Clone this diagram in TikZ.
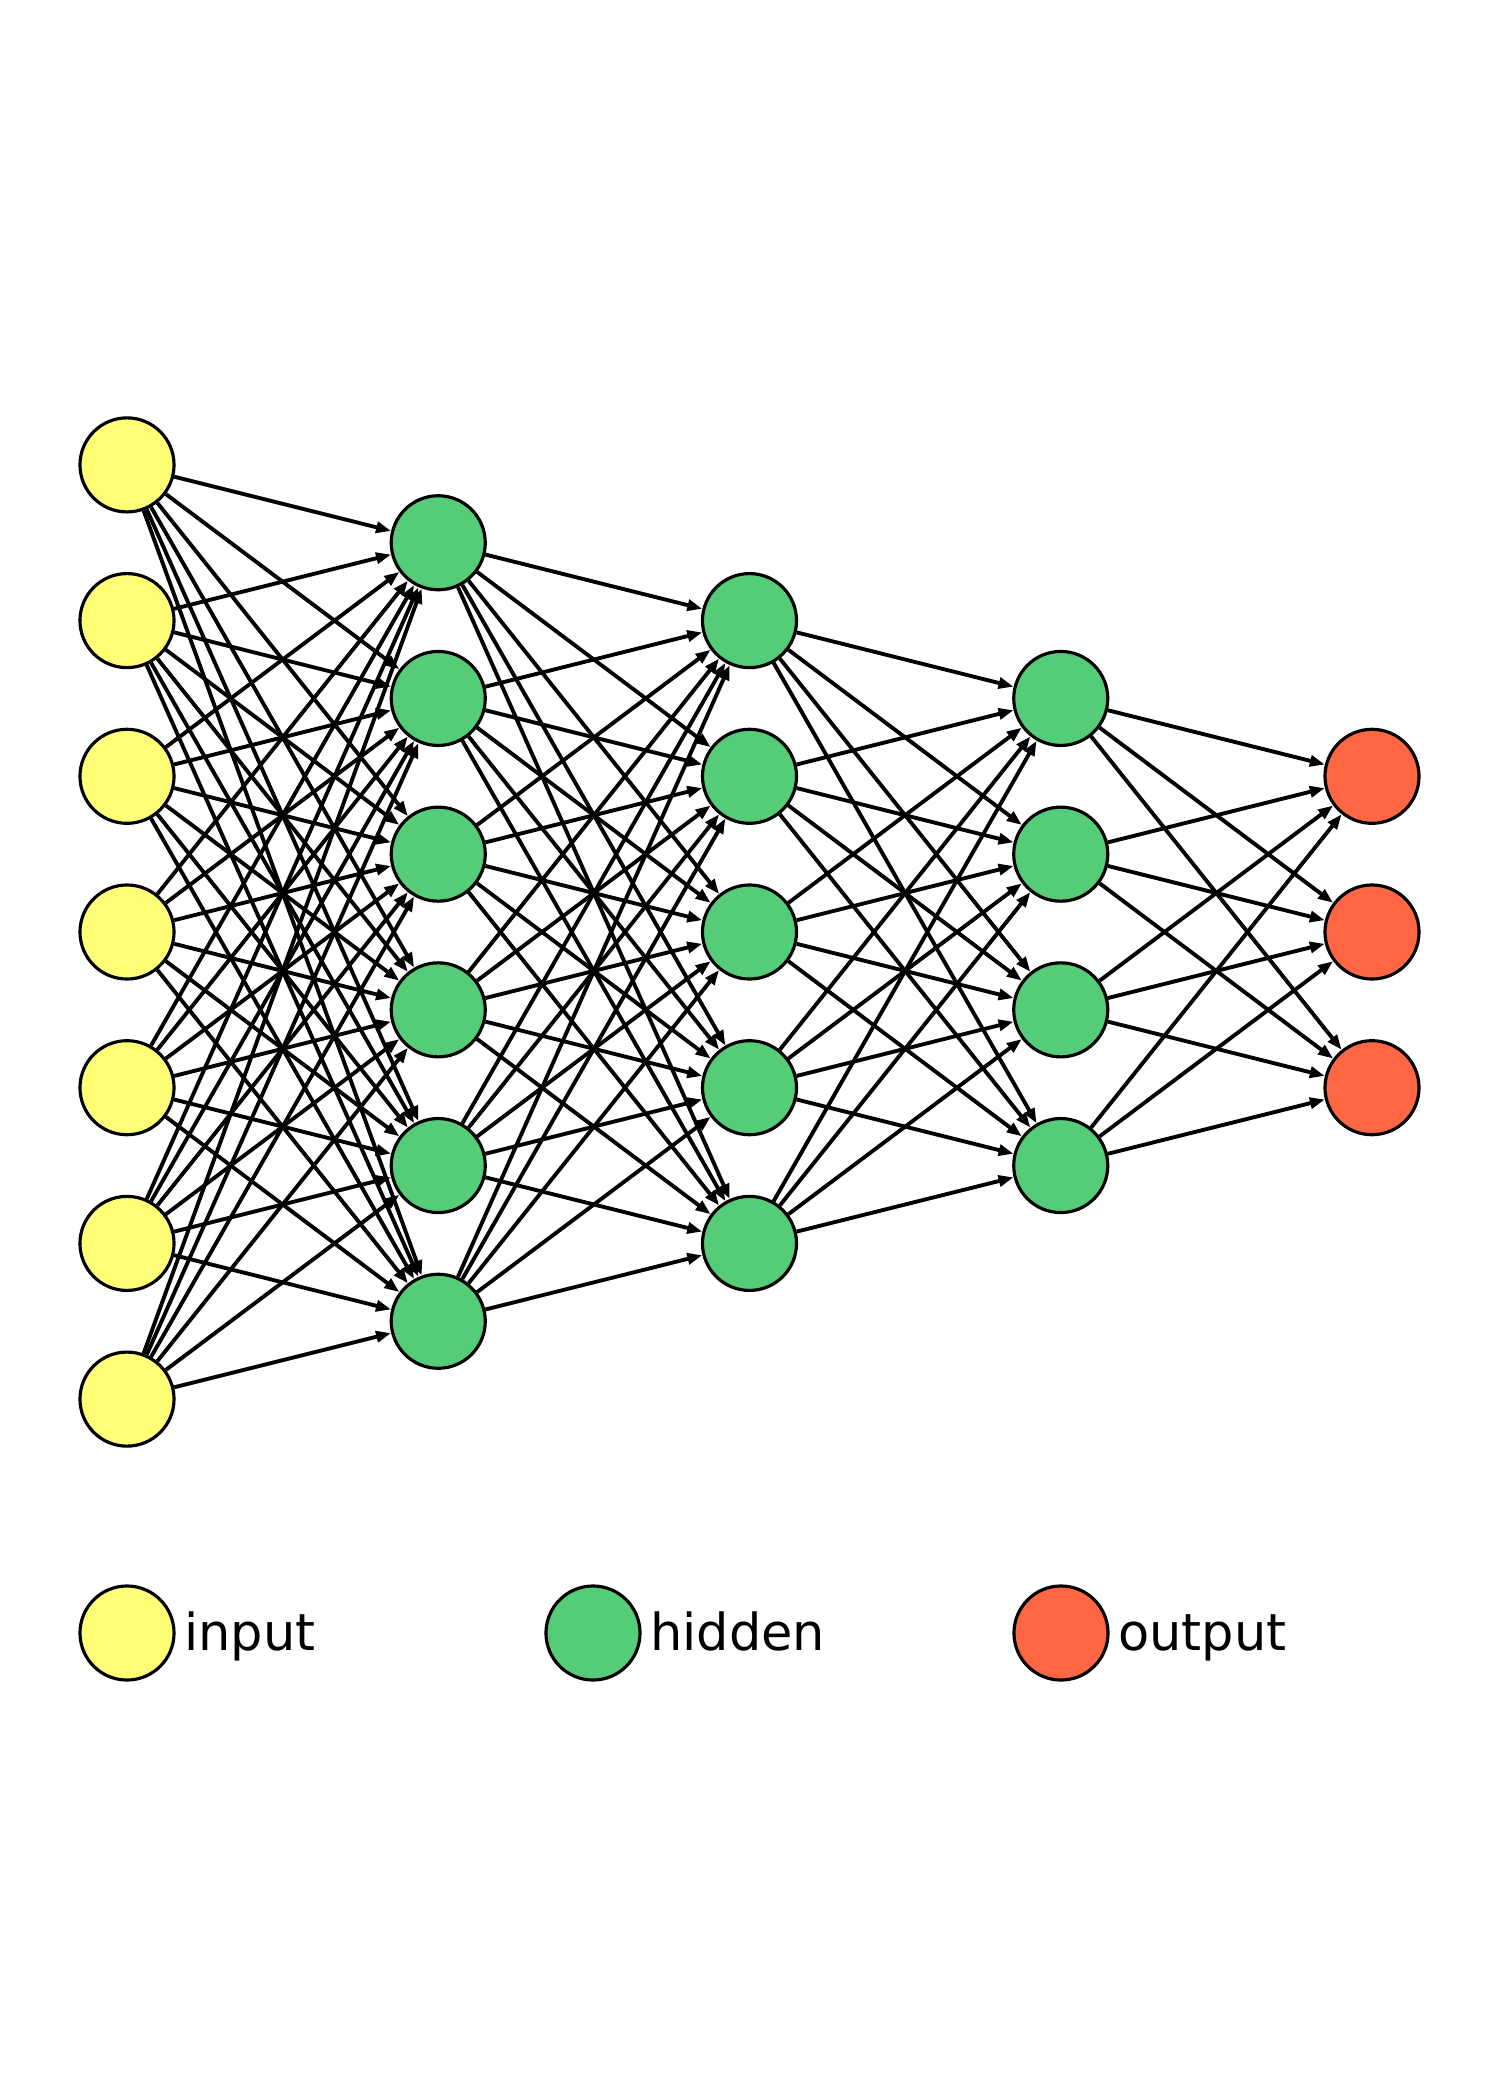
\documentclass[tikz,border=0pt]{standalone}
\usepackage{fontspec}
\setmainfont{DejaVu Sans}
\usetikzlibrary{arrows.meta}

\definecolor{inputcol}{HTML}{FFFF77}
\definecolor{hiddencol}{HTML}{55CC77}
\definecolor{outputcol}{HTML}{FF6644}

\tikzset{
  neuron/.style={circle,draw=black,line width=0.9pt,minimum size=0.94cm,inner sep=0pt},
  edge/.style={line width=1.1pt,-{Triangle[length=0.15cm,width=0.11cm]}},
  keytext/.style={anchor=base west,inner sep=0pt,font=\fontsize{14.5pt}{17pt}\selectfont}
}

\begin{document}
\begin{tikzpicture}[x=0.01cm,y=-0.01cm]
\useasboundingbox (0,0) rectangle (1500,2100);

% layers
\foreach \n/\c [count=\l] in {7/inputcol,6/hiddencol,5/hiddencol,4/hiddencol,3/outputcol}
  \foreach \k in {1,...,\n}
    \node[neuron,fill=\c] (n\l-\k) at ({127+311.25*(\l-1)},{932+(\k-(\n+1)/2)*155.7}) {};

% connections
\foreach \l/\n/\m in {1/7/6,2/6/5,3/5/4,4/4/3} {
  \pgfmathtruncatemacro\nxt{\l+1}
  \foreach \a in {1,...,\n}
    \foreach \b in {1,...,\m}
      \draw[edge] (n\l-\a) -- (n\nxt-\b);
}

% key
\node[neuron,fill=inputcol] (keyin) at (127,1633) {};
\node[keytext] (keyintext) at ([xshift=0.08cm,yshift=-0.17cm]keyin.east) {input};
\node[neuron,fill=hiddencol] (keyhid) at (593,1633) {};
\node[keytext] (keyhidtext) at ([xshift=0.08cm,yshift=-0.17cm]keyhid.east) {hidden};
\node[neuron,fill=outputcol] (keyout) at (1061,1633) {};
\node[keytext] (keyouttext) at ([xshift=0.08cm,yshift=-0.17cm]keyout.east) {output};
\end{tikzpicture}
\end{document}
